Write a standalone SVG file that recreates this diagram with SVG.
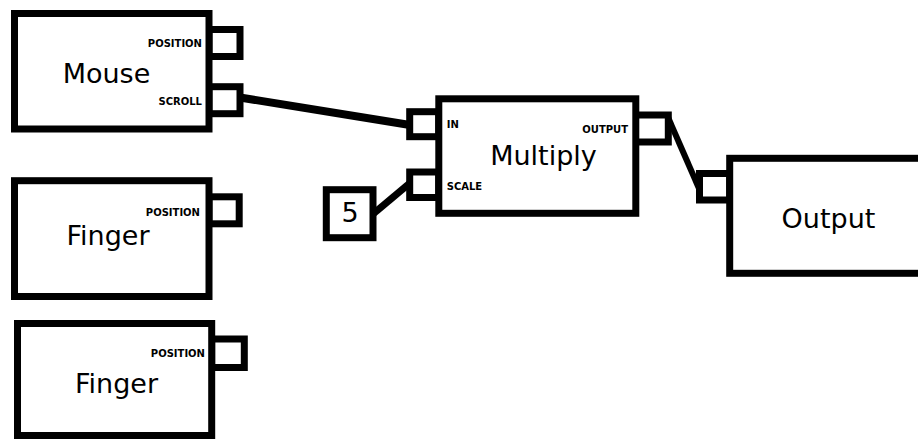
<svg xmlns="http://www.w3.org/2000/svg" width="918" height="439" viewBox="0 0 918 439">
<style>
.box{fill:#fff;stroke:#000;stroke-width:7}
.port{fill:#fff;stroke:#000;stroke-width:7}
.title{font-family:"DejaVu Sans",sans-serif;font-size:27px;fill:#000;text-anchor:middle}
.lbl{font-family:"DejaVu Sans",sans-serif;font-size:10px;font-weight:bold;fill:#000}
.r{text-anchor:end}
.wire{fill:none;stroke:#000;stroke-linecap:butt}
</style>
<rect width="918" height="439" fill="#fff"/>
<g id="connectors">
<path class="wire" d="M240,97.5 L410,125" stroke-width="8"/>
<path class="wire" d="M373,214 L410,183" stroke-width="7"/>
<path class="wire" d="M667,115 L701,193" stroke-width="6"/>
</g>
<g id="mouse">
<rect class="port" x="209" y="29.5" width="31" height="27"/>
<rect class="port" x="209" y="86.7" width="31" height="27"/>
<rect class="box" x="14.5" y="13.5" width="194.5" height="115.5"/>
<text class="title" x="106.5" y="83">Mouse</text>
<text class="lbl r" x="202" y="46.5">POSITION</text>
<text class="lbl r" x="202" y="105">SCROLL</text>
</g>
<g id="finger1">
<rect class="port" x="209" y="196.8" width="30.2" height="27"/>
<rect class="box" x="14.5" y="180.7" width="194.5" height="115.8"/>
<text class="title" x="108" y="245">Finger</text>
<text class="lbl r" x="200" y="215.7">POSITION</text>
</g>
<g id="finger2">
<rect class="port" x="211.7" y="339" width="32.6" height="28.5"/>
<rect class="box" x="17.5" y="323.5" width="194.2" height="112"/>
<text class="title" x="116.5" y="393">Finger</text>
<text class="lbl r" x="205" y="356.7">POSITION</text>
</g>
<g id="constant5">
<rect class="box" x="326.3" y="189.7" width="46.7" height="48" stroke-width="6"/>
<text class="title" x="350" y="221.7" font-size="26">5</text>
</g>
<g id="multiply">
<rect class="port" x="409.7" y="111.7" width="29" height="25"/>
<rect class="port" x="409.7" y="172" width="29" height="25.5"/>
<rect class="port" x="635" y="115" width="33.3" height="27"/>
<rect class="box" x="438.8" y="98.8" width="197" height="114.5"/>
<text class="title" x="543.5" y="165">Multiply</text>
<text class="lbl" x="446.7" y="127.7">IN</text>
<text class="lbl" x="446.7" y="190">SCALE</text>
<text class="lbl r" x="628" y="132.7">OUTPUT</text>
</g>
<g id="output">
<rect class="port" x="699.5" y="173.5" width="30.2" height="26.5"/>
<rect class="box" x="729.7" y="158.3" width="300" height="115"/>
<text class="title" x="828.5" y="227.7">Output</text>
</g>
</svg>
